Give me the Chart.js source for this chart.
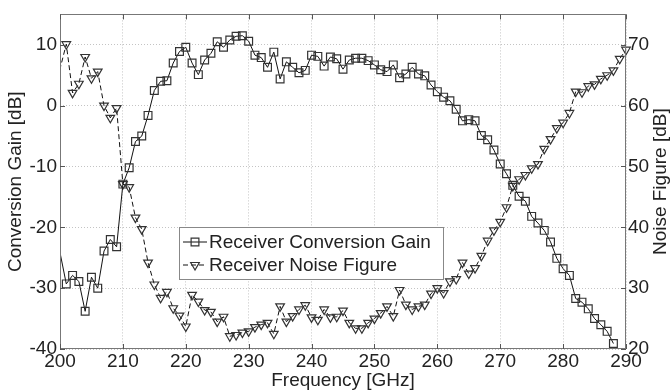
<!DOCTYPE html>
<html>
<head>
<meta charset="utf-8">
<script src="https://cdn.jsdelivr.net/npm/chart.js@4.4.1/dist/chart.umd.min.js"></script>
<style>
  html, body { margin: 0; padding: 0; background: #ffffff; }
  #wrap { width: 672px; height: 392px; }
</style>
</head>
<body>
<div id="wrap"><canvas id="c" width="672" height="392"></canvas></div>
<script>
// ---- data ----
const freq = [199,
  201,202,203,204,205,206,207,208,209,210,
  211,212,213,214,215,216,217,218,219,220,
  221,222,223,224,225,226,227,228,229,230,
  231,232,233,234,235,236,237,238,239,240,
  241,242,243,244,245,246,247,248,249,250,
  251,252,253,254,255,256,257,258,259,260,
  261,262,263,264,265,266,267,268,269,270,
  271,272,273,274,275,276,277,278,279,280,
  281,282,283,284,285,286,287,288,289,290];

const conversionGain = [-19,
  -29.3,-27.9,-28.9,-33.8,-28.2,-30.0,-23.9,-22.0,-23.2,-12.9,
  -10.2,-5.9,-5.0,-1.6,2.5,4.0,4.1,7.0,8.9,9.6,
  7.0,5.1,7.5,8.6,10.5,9.6,10.8,11.4,11.5,10.6,
  8.3,7.9,6.3,8.8,4.4,7.2,6.3,5.4,5.8,8.3,
  8.1,6.5,8.0,7.7,6.0,7.5,7.8,7.8,7.4,6.7,
  5.9,5.6,6.7,4.6,5.2,6.3,5.2,4.9,3.4,2.3,
  1.4,0.8,-0.6,-2.5,-2.3,-2.5,-4.9,-5.6,-7.3,-9.6,
  -11.2,-13.1,-14.9,-15.7,-18.2,-19.3,-20.5,-22.4,-25.1,-26.8,
  -27.9,-31.7,-32.3,-33.4,-35.0,-36.0,-37.1,-39.1,null,null];

const noiseFigure = [62,
  70.1,62.1,63.6,68.0,64.5,65.6,60.0,58.0,59.6,47.1,
  46.6,41.6,39.7,34.2,30.6,28.4,29.4,26.7,25.5,23.7,
  28.9,27.8,26.4,26.1,24.5,25.3,22.1,22.3,22.7,22.9,
  23.6,24.0,24.3,22.5,27.0,24.5,25.4,26.5,27.2,25.2,
  24.8,26.5,25.2,25.3,26.3,24.3,23.4,23.4,24.3,25.0,
  25.9,27.0,25.4,29.7,27.3,26.5,27.0,27.3,29.1,30.0,
  29.2,31.1,31.5,34.2,32.4,33.3,35.3,37.8,39.5,40.9,
  43.3,46.8,47.9,48.6,49.7,50.4,52.9,54.5,56.3,57.2,
  58.8,62.3,62.2,63.2,63.5,64.4,65.0,65.8,67.7,69.2];

const freqTicks = [200,210,220,230,240,250,260,270,280,290];
const gainTicks = [-40,-30,-20,-10,0,10];
const noiseTicks = [20,30,40,50,60,70];

const seriesNames = ['Receiver Conversion Gain', 'Receiver Noise Figure'];
const axisTitles = { x: 'Frequency [GHz]', y: 'Conversion Gain [dB]', y2: 'Noise Figure [dB]' };

// ---- styling ----
const FONT = { family: "'Liberation Sans', Arial, Helvetica, sans-serif", size: 19 };
const TXT = '#222222';
const GRID = '#c4c4c4';
const FRAME = '#777777';

const decor = {
  id: 'decor',
  afterDatasetsDraw(chart) {
    const ctx = chart.ctx;
    const a = chart.chartArea;
    const xs = chart.scales.x, ys = chart.scales.y, y2 = chart.scales.y2;
    ctx.save();
    // frame (box on)
    ctx.strokeStyle = FRAME;
    ctx.lineWidth = 1;
    ctx.setLineDash([]);
    ctx.strokeRect(Math.round(a.left) + 0.5, Math.round(a.top) + 0.5,
                   Math.round(a.right - a.left) - 1, Math.round(a.bottom - a.top) - 1);
    // inward tick marks
    ctx.strokeStyle = '#555';
    ctx.beginPath();
    const tl = 5;
    xs.ticks.forEach(t => {
      const px = Math.round(xs.getPixelForValue(t.value)) + 0.5;
      ctx.moveTo(px, a.bottom); ctx.lineTo(px, a.bottom - tl);
      ctx.moveTo(px, a.top); ctx.lineTo(px, a.top + tl);
    });
    ys.ticks.forEach(t => {
      const py = Math.round(ys.getPixelForValue(t.value)) + 0.5;
      ctx.moveTo(a.left, py); ctx.lineTo(a.left + tl, py);
    });
    y2.ticks.forEach(t => {
      const py = Math.round(y2.getPixelForValue(t.value)) + 0.5;
      ctx.moveTo(a.right, py); ctx.lineTo(a.right - tl, py);
    });
    ctx.stroke();

    // legend box
    const lx = 179.5, ly = 227.5, lw = 264, lh = 52;
    ctx.fillStyle = '#ffffff';
    ctx.fillRect(lx, ly, lw, lh);
    ctx.strokeStyle = '#888';
    ctx.strokeRect(lx, ly, lw, lh);
    const rows = [242, 265];
    chart.data.datasets.forEach((ds, i) => {
      const yy = rows[i];
      ctx.save();
      ctx.strokeStyle = ds.borderColor;
      ctx.lineWidth = ds.borderWidth;
      ctx.setLineDash(ds.borderDash || []);
      ctx.beginPath();
      ctx.moveTo(183, yy); ctx.lineTo(207, yy);
      ctx.stroke();
      ctx.setLineDash([]);
      ctx.strokeStyle = ds.pointBorderColor;
      ctx.fillStyle = 'rgba(0,0,0,0)';
      ctx.lineWidth = ds.pointBorderWidth;
      Chart.helpers.drawPoint(ctx, {
        pointStyle: ds.pointStyle, rotation: ds.pointRotation || 0,
        radius: ds.pointRadius, borderWidth: ds.pointBorderWidth
      }, 195, yy);
      ctx.restore();
      ctx.fillStyle = TXT;
      ctx.font = FONT.size + 'px ' + FONT.family;
      ctx.textAlign = 'left';
      ctx.textBaseline = 'middle';
      ctx.fillText(ds.label, 209, yy + 1);
    });

    // right axis title, reading bottom-to-top like the reference
    ctx.save();
    ctx.translate(661, (a.top + a.bottom) / 2);
    ctx.rotate(-Math.PI / 2);
    ctx.fillStyle = TXT;
    ctx.font = FONT.size + 'px ' + FONT.family;
    ctx.textAlign = 'center';
    ctx.textBaseline = 'middle';
    ctx.fillText(axisTitles.y2, 0, 0);
    ctx.restore();
    ctx.restore();
  }
};

const toPts = (ys) => freq.map((f, i) => ({ x: f, y: ys[i] }));

new Chart(document.getElementById('c'), {
  type: 'line',
  data: {
    datasets: [
      {
        label: seriesNames[0],
        data: toPts(conversionGain),
        yAxisID: 'y',
        borderColor: '#111111',
        borderWidth: 1,
        pointStyle: 'rect',
        pointRadius: 5.5,
        pointBorderColor: '#333333',
        pointBackgroundColor: 'rgba(0,0,0,0)',
        pointBorderWidth: 1.2,
        tension: 0,
        spanGaps: false,
        clip: { left: 0, right: 8, top: 8, bottom: 8 }
      },
      {
        label: seriesNames[1],
        data: toPts(noiseFigure),
        yAxisID: 'y2',
        borderColor: '#111111',
        borderWidth: 1,
        borderDash: [5, 3],
        pointStyle: 'triangle',
        pointRotation: 180,
        pointRadius: 5,
        pointBorderColor: '#333333',
        pointBackgroundColor: 'rgba(0,0,0,0)',
        pointBorderWidth: 1.2,
        tension: 0,
        spanGaps: false,
        clip: { left: 0, right: 8, top: 8, bottom: 8 }
      }
    ]
  },
  options: {
    responsive: false,
    animation: false,
    devicePixelRatio: 1,
    events: [],
    layout: { padding: { top: 9, left: 0, right: 0, bottom: 0 } },
    plugins: { legend: { display: false }, tooltip: { enabled: false } },
    scales: {
      x: {
        type: 'linear',
        position: 'bottom',
        min: 200, max: 290,
        afterBuildTicks: s => { s.ticks = freqTicks.map(v => ({ value: v })); },
        afterFit: s => { s.height = 43; },
        ticks: { font: FONT, color: TXT, padding: 1, maxRotation: 0, autoSkip: false,
                 callback: v => String(v) },
        grid: { color: GRID, lineWidth: 1, drawTicks: false },
        border: { display: false, dash: [1, 2] },
        title: { display: true, text: axisTitles.x, font: FONT, color: TXT,
                 padding: { top: 0, bottom: 0 } }
      },
      y: {
        type: 'linear',
        position: 'left',
        min: -40, max: 15,
        afterBuildTicks: s => { s.ticks = gainTicks.map(v => ({ value: v })); },
        afterFit: s => { s.width = 60; },
        ticks: { font: FONT, color: TXT, padding: 3, callback: v => String(v) },
        grid: { color: GRID, lineWidth: 1, drawTicks: false },
        border: { display: false, dash: [1, 2] },
        title: { display: true, text: axisTitles.y, font: FONT, color: TXT,
                 padding: { top: 4, bottom: 0 } }
      },
      y2: {
        type: 'linear',
        position: 'right',
        min: 20, max: 75,
        afterBuildTicks: s => { s.ticks = noiseTicks.map(v => ({ value: v })); },
        afterFit: s => { s.width = 46; },
        ticks: { font: FONT, color: TXT, padding: 2, callback: v => String(v) },
        grid: { drawOnChartArea: false, drawTicks: false },
        border: { display: false }
      }
    }
  },
  plugins: [decor]
});
</script>
</body>
</html>
